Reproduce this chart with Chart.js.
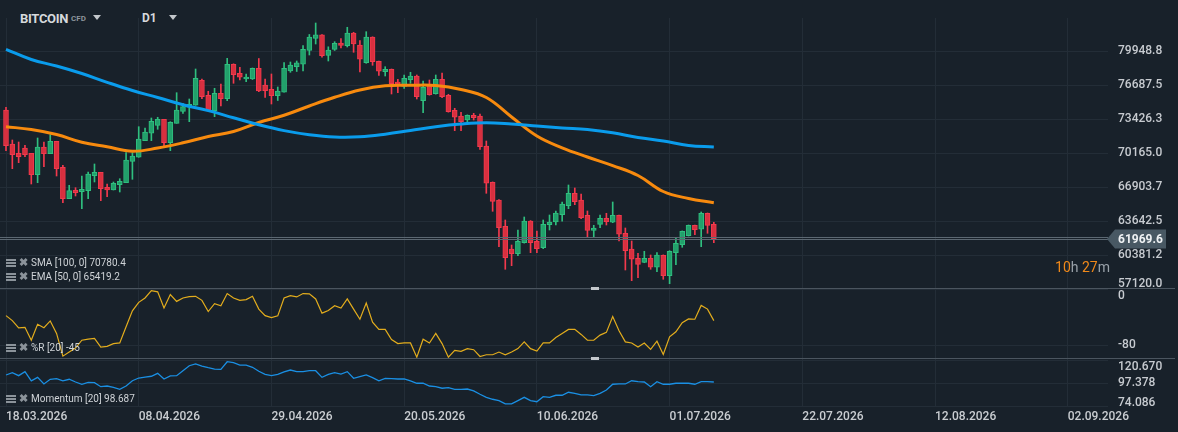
<!DOCTYPE html>
<html>
<head>
<meta charset="utf-8">
<script src="https://cdn.jsdelivr.net/npm/chart.js@4.4.1/dist/chart.umd.min.js"></script>
<style>
  html, body { margin: 0; padding: 0; background: #18212a; }
  body { width: 1178px; height: 432px; position: relative; overflow: hidden; font-family: Roboto, "Noto Sans", sans-serif; }
  .pane { position: absolute; left: 0; }
  .sep { position: absolute; left: 0; width: 1175px; height: 1px; background: #4b555f; z-index: 2; }
  .handle { position: absolute; left: 591px; width: 8px; height: 3px; background: #c4c8cc; z-index: 3; }
  .lg { position: absolute; left: 6px; font-size: 10px; color: #cfd3d7; white-space: nowrap; line-height: 14px; z-index: 3; }
  .ico { display: inline-block; width: 10px; height: 2px; background: #8b939a; box-shadow: 0 3px 0 #8b939a, 0 -3px 0 #8b939a; vertical-align: middle; margin-right: 3px; }
  .xm { color: #8b939a; font-size: 11px; font-weight: bold; margin-right: 3px; }
  .tri { position: absolute; width: 0; height: 0; border-left: 4px solid transparent; border-right: 4px solid transparent; border-top: 5px solid #c3c7cb; }
</style>
</head>
<body>
<div style="position:absolute;left:20px;top:11px;font-size:13px;font-weight:bold;letter-spacing:-0.3px;color:#d6d9dc">BITCOIN</div>
<div style="position:absolute;left:71px;top:14px;font-size:8px;font-weight:bold;color:#8c949b">CFD</div>
<div class="tri" style="left:93px;top:15px"></div>
<div style="position:absolute;left:142px;top:11px;font-size:12px;font-weight:bold;color:#d6d9dc">D1</div>
<div class="tri" style="left:169px;top:15px"></div>

<div class="pane" style="top:18px"><canvas id="main" width="1178" height="271"></canvas></div>
<div class="pane" style="top:289px"><canvas id="wpr" width="1178" height="70"></canvas></div>
<div class="pane" style="top:359px"><canvas id="mom" width="1178" height="73"></canvas></div>

<div class="sep" style="top:288px"></div>
<div class="sep" style="top:358px"></div>
<div class="handle" style="top:287px"></div>
<div class="handle" style="top:357px"></div>

<div class="lg" style="top:256px"><span class="ico"></span><span class="xm">&#10006;</span>SMA [100, 0] 70780.4</div>
<div class="lg" style="top:270px"><span class="ico"></span><span class="xm">&#10006;</span>EMA [50, 0] 65419.2</div>
<div class="lg" style="top:341px"><span class="ico"></span><span class="xm">&#10006;</span>%R [20] -45</div>
<div class="lg" style="top:392px"><span class="ico"></span><span class="xm">&#10006;</span>Momentum [20] 98.687</div>

<div style="position:absolute;right:68px;top:259px;font-size:14px;color:#9aa2a9;z-index:3"><span style="color:#f0891a">10</span>h <span style="color:#f0891a">27</span>m</div>

<script>
// daily candles, 18.03.2026 .. 08.07.2026
const opens = [74319,71058,70165,70674,70165,68113,70770,70127,71317,68823,
  65811,66617,66482,66578,68017,68343,66904,66645,67154,67345,
  69398,69782,71374,72084,72851,73427,71192,73043,74194,74578,
  74770,77168,75729,74252,75921,75403,78703,77839,77292,77292,
  78319,76717,76304,75690,76017,78060,78472,78703,80026,81196,
  81532,79546,80141,80745,80486,81705,80534,78856,81321,78990,
  77993,78223,77005,76573,77225,77580,75211,76813,75882,77264,
  75729,74290,73743,73360,73810,73743,70866,67384,65686,63163,
  60986,60535,61590,63672,61725,61111,63317,63576,64276,65139,
  66329,65686,64218,62779,63355,63930,63547,64218,62492,60986,
  60094,59710,60094,59231,60382,58425,60631,61398,62262,63259,
  62876,64410,63355]
const highs = [74578,71441,71249,70933,70165,71633,71249,71950,71317,69014,
  67096,66866,67988,68372,69139,68343,67221,67413,67729,70223,
  70223,72717,72592,73551,73619,73427,73197,75978,74961,75374,
  78251,77292,76113,76400,76813,79275,78750,78415,77772,78347,
  79258,77292,77772,76525,78856,78923,79019,80486,81561,82664,
  81542,80381,80870,81158,82252,81772,80985,81830,81340,79010,
  78472,78252,77264,77676,77935,77676,77100,77196,77676,77868,
  75825,74482,74098,73850,74002,73935,71345,67420,65720,63768,
  61370,62808,64055,63710,62712,63768,64247,64631,65494,67125,
  66837,66262,64631,63259,64247,64410,65494,64250,63000,61753,
  60574,60765,60410,60631,60420,60823,62108,62720,63290,63290,
  64535,64440,63547]
const lows = [70415,68688,69264,69839,67221,67345,68880,70127,67988,65427,
  65811,66070,64851,65811,67413,65619,66003,66645,66454,67345,
  67671,69782,71374,71374,72468,70741,70415,73043,74002,73197,
  74770,75403,74280,73676,74702,75211,76880,77196,77043,77244,
  76079,75518,74894,75230,76017,77935,78012,78060,79594,80649,
  79374,79019,80030,80266,80361,79853,77969,78800,78606,77647,
  77580,75854,75978,76381,76880,75374,74060,75740,75840,75499,
  74110,72333,72333,73024,73360,70549,66329,64602,61207,59039,
  59384,60343,61550,60631,60631,61015,62808,63288,63643,64851,
  65235,63892,62137,62137,63029,63288,63510,61753,58972,57945,
  58233,59670,59039,58808,58080,57658,59480,61149,62230,62358,
  61207,62492,61590]
const closes = [70894,70031,69839,70031,68113,70770,70127,71317,68688,65811,
  66578,66386,66712,68180,68343,66770,66645,67287,67479,69523,
  69907,71537,72209,73235,73427,71192,73139,74319,74635,74866,
  77359,75595,74319,75921,75403,78703,77704,77456,77484,78319,
  76154,76170,75690,76141,78319,78635,78846,80141,81321,81532,
  79518,80074,80716,80505,81705,80649,79182,81321,78952,78031,
  78223,76832,76813,77359,77580,75595,76496,75786,77264,75595,
  74156,73619,73197,73810,73580,70799,67288,65561,63029,60151,
  60535,61725,63672,61590,61015,63355,63576,64439,65302,66329,
  65523,63988,62779,63000,63930,63605,64218,62396,60823,59998,
  59518,60094,59231,60410,58425,60765,61533,62684,63259,62837,
  64410,63259,61969.6]

// moving averages, read every 4th day
const maIdx = [0,4,8,12,16,20,24,28,32,36,40,44,48,52,56,60,64,68,72,76,80,84,88,92,96,100,104,108,112]
const smaVals = [80141,79162,78539,77819,76975,76189,75517,74817,74261,73570,
  72899,72342,71949,71729,71748,71997,72352,72716,72975,73100,
  72975,72784,72592,72438,72131,71681,71345,70913,70780.4]
const emaVals = [72716,72448,71968,71230,70789,70357,70673,71172,71776,72256,
  73119,73810,74702,75537,76237,76640,76688,76668,76285,75517,
  73647,71825,70692,69810,68985,68036,66501,65830,65419.2]

const wprVals = [-38,-45.2,-55.4,-54.8,-73.2,-50.4,-55.4,-45.6,-63.5,-95.9,
  -90.1,-84.3,-73.2,-71.7,-70.7,-82.9,-81.9,-78,-77.1,-53.9,
  -31.2,-19.1,-12.8,-2.2,-4.1,-27.2,-8,-17.7,-12.8,-10.9,
  -10.4,-16.2,-32.2,-21,-23.9,-6.5,-12.8,-16.2,-15.2,-10.4,
  -28.7,-38,-40.9,-38.4,-12.8,-9.4,-11.3,-6.5,-7,-14.2,
  -34.5,-30.7,-23.9,-27.2,-14.2,-28.7,-43.2,-20,-47.5,-57.7,
  -57.7,-72.2,-78,-77.1,-77.1,-97.4,-71.7,-77.1,-63.5,-78,
  -97.4,-87.7,-89.1,-85.2,-86.7,-96.4,-93.9,-93.9,-90.1,-93.9,
  -90.1,-85.2,-75.6,-85.2,-88.7,-77.1,-77.1,-69.3,-63.5,-57.7,
  -57.7,-64.9,-73.2,-73.2,-65.9,-62,-39.4,-59.7,-75.6,-77.1,
  -82.9,-77.1,-86.2,-74.6,-93.5,-68.4,-61.1,-48.1,-42.7,-43.2,
  -23.5,-28.7,-45.2]

const momVals = [105.9,108.3,105.2,109.3,99.8,103.5,96.7,101.5,102.1,99.8,
  101.5,98.7,96.4,98.4,98.0,93.9,94.6,93.3,91.2,94.6,
  100.0,102.8,103.8,104.6,107.6,101.8,104.9,105.2,110.3,115.4,
  117.2,115.1,113.4,112.0,111.7,119.5,118.5,116.1,116.1,113.8,
  109.7,106.6,105.2,106.6,109.0,111.0,109.3,109.3,110.3,110.3,
  103.5,106.6,108.3,106.9,109.3,102.5,104.2,105.9,103.1,100.0,
  102.5,102.1,101.8,101.8,99.8,97.4,97.4,94.6,93.9,92.3,
  92.9,91.2,91.2,91.5,89.5,86.1,83.0,81.0,79.6,76.2,
  76.2,79.6,83.0,79.6,78.5,83.6,83.0,85.1,85.1,88.2,
  87.1,85.4,85.4,84.7,87.1,90.5,96.4,96.7,96.7,100.0,
  99.0,98.7,93.9,99.0,96.4,96.4,97.4,97.4,97.4,96.4,
  99.0,99.0,98.687]

const dateIdx = [0,21,42,63,84,105,126,147,168]
const dateLabels = ['18.03.2026','08.04.2026','29.04.2026','20.05.2026','10.06.2026','01.07.2026','22.07.2026','12.08.2026','02.09.2026']
const priceTicks = [79948.8,76687.5,73426.3,70165.0,66903.7,63642.5,60381.2,57120.0]
const wprTicks = [0,-80]
const momTicks = [120.670,97.378,74.086]

const GRID = '#232d37'
const UP = '#22a06b', UP_EDGE = '#2fbf7f'
const DN = '#d8303f', DN_EDGE = '#f2394d'

const rightLabels = {
  id: 'rightLabels',
  afterDraw(chart, args, opts) {
    const {ctx, chartArea} = chart
    const y = chart.scales.y
    ctx.save()
    ctx.font = '500 12px Roboto'
    ctx.fillStyle = '#c7cbd0'
    ctx.textAlign = 'left'
    ctx.textBaseline = 'middle'
    opts.values.forEach(v => {
      let py = y.getPixelForValue(v)
      py = Math.max(chartArea.top + opts.padTop, Math.min(chartArea.bottom - opts.padBottom, py))
      ctx.fillText(v.toFixed(opts.decimals), chartArea.right + 10, py)
    })
    ctx.restore()
  }
}

const priceTag = {
  id: 'priceTag',
  afterDatasetsDraw(chart) {
    const {ctx, chartArea} = chart
    const last = closes[closes.length - 1]
    const py = Math.round(chart.scales.y.getPixelForValue(last))
    ctx.save()
    ctx.strokeStyle = '#5c6872'
    ctx.lineWidth = 1
    ctx.beginPath()
    ctx.moveTo(chartArea.left, py - 1.5); ctx.lineTo(chartArea.right, py - 1.5)
    ctx.moveTo(chartArea.left, py + 0.5); ctx.lineTo(chartArea.right, py + 0.5)
    ctx.stroke()
    const x0 = chartArea.right
    ctx.fillStyle = '#485863'
    ctx.beginPath()
    ctx.moveTo(x0 - 1, py)
    ctx.lineTo(x0 + 7, py - 9.5)
    ctx.lineTo(x0 + 58, py - 9.5)
    ctx.lineTo(x0 + 58, py + 9.5)
    ctx.lineTo(x0 + 7, py + 9.5)
    ctx.closePath()
    ctx.fill()
    ctx.font = 'bold 12px Roboto'
    ctx.fillStyle = '#eef1f3'
    ctx.textBaseline = 'middle'
    ctx.fillText(last.toFixed(1), x0 + 10, py + 1)
    ctx.restore()
  }
}

function xAxis(showLabels) {
  return {
    type: 'linear', min: -0.95, max: 174.37, offset: false,
    afterBuildTicks: s => { s.ticks = dateIdx.map(v => ({value: v})) },
    afterFit: s => { s.height = showLabels ? 26 : 0 },
    grid: { color: GRID, drawTicks: false, offset: false },
    border: { display: false },
    ticks: {
      display: showLabels, align: 'start', padding: 4, maxRotation: 0, autoSkip: false,
      color: '#c9cdd1', font: { family: 'Roboto', size: 12, weight: '500' },
      callback: (v, i) => dateLabels[i]
    }
  }
}

function yAxis(min, max, ticks) {
  return {
    type: 'linear', position: 'right', min: min, max: max,
    afterBuildTicks: s => { s.ticks = ticks.map(v => ({value: v})) },
    afterFit: s => { s.width = 70 },
    grid: { color: GRID, drawTicks: false },
    border: { display: false },
    ticks: { display: false }
  }
}

const base = {
  responsive: false,
  animation: false,
  events: [],
  layout: { padding: 0 }
}

const candleUp = closes.map((c, i) => c >= opens[i])

new Chart(document.getElementById('main'), {
  type: 'bar',
  data: {
    datasets: [
      {
        type: 'line', label: 'SMA',
        data: maIdx.map((d, k) => ({x: d, y: smaVals[k]})),
        borderColor: '#0a9cec', borderWidth: 3, pointRadius: 0, tension: 0.4, order: 0
      },
      {
        type: 'line', label: 'EMA',
        data: maIdx.map((d, k) => ({x: d, y: emaVals[k]})),
        borderColor: '#f78a0e', borderWidth: 3, pointRadius: 0, tension: 0.4, order: 0
      },
      {
        label: 'body',
        data: opens.map((o, i) => ({x: i, y: [o, closes[i]]})),
        backgroundColor: candleUp.map(u => u ? UP : DN),
        borderColor: candleUp.map(u => u ? UP_EDGE : DN_EDGE),
        borderWidth: 1, borderSkipped: false, barThickness: 5, minBarLength: 2,
        grouped: false, order: 1
      },
      {
        label: 'wick',
        data: opens.map((o, i) => ({x: i, y: [lows[i], highs[i]]})),
        backgroundColor: candleUp.map(u => u ? UP_EDGE : DN_EDGE),
        barThickness: 1, grouped: false, order: 2
      }
    ]
  },
  options: Object.assign({}, base, {
    plugins: {
      legend: { display: false }, tooltip: { enabled: false },
      rightLabels: { values: priceTicks, decimals: 1, padTop: 0, padBottom: 5 }
    },
    scales: { x: xAxis(false), y: yAxis(57148.6, 83142.9, priceTicks) }
  }),
  plugins: [priceTag, rightLabels]
})

new Chart(document.getElementById('wpr'), {
  type: 'line',
  data: {
    datasets: [{
      label: '%R',
      data: wprVals.map((v, i) => ({x: i, y: v})),
      borderColor: '#e3ad1d', borderWidth: 1.2, pointRadius: 0, tension: 0
    }]
  },
  options: Object.assign({}, base, {
    plugins: {
      legend: { display: false }, tooltip: { enabled: false },
      rightLabels: { values: wprTicks, decimals: 0, padTop: 7, padBottom: 0 }
    },
    scales: { x: xAxis(false), y: yAxis(-100, 0, wprTicks) }
  }),
  plugins: [rightLabels]
})

new Chart(document.getElementById('mom'), {
  type: 'line',
  data: {
    datasets: [{
      label: 'Momentum',
      data: momVals.map((v, i) => ({x: i, y: v})),
      borderColor: '#1a8fe3', borderWidth: 1.3, pointRadius: 0, tension: 0
    }]
  },
  options: Object.assign({}, base, {
    plugins: {
      legend: { display: false }, tooltip: { enabled: false },
      rightLabels: { values: momTicks, decimals: 3, padTop: 8, padBottom: 3 }
    },
    scales: { x: xAxis(true), y: yAxis(74.086, 122.3, momTicks) }
  }),
  plugins: [rightLabels]
})
</script>
</body>
</html>
